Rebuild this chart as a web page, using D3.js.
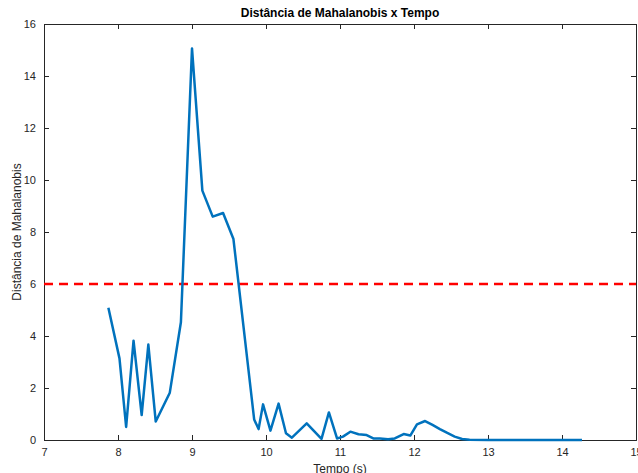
<!DOCTYPE html>
<html lang="pt">
<head>
<meta charset="UTF-8">
<title>Distância de Mahalanobis x Tempo</title>
<script src="https://d3js.org/d3.v7.min.js"></script>
<style>
  body { margin: 0; background: #fff; }
  svg { display: block; font-family: "Liberation Sans", Arial, sans-serif; }
</style>
</head>
<body>
<svg id="chart" width="638" height="473"></svg>
<script>
// Tempo (s) and Mahalanobis distance
const tempo = [7.87, 8.02, 8.11, 8.21, 8.32, 8.41, 8.51, 8.70, 8.85, 9.00,
  9.14, 9.28, 9.42, 9.56, 9.84, 9.90, 9.96, 10.06, 10.17, 10.27,
  10.35, 10.55, 10.75, 10.85, 10.96, 11.04, 11.14, 11.25, 11.36, 11.45,
  11.54, 11.65, 11.74, 11.86, 11.95, 12.04, 12.15, 12.25, 12.35, 12.45,
  12.55, 12.65, 12.75, 13.0, 13.5, 14.0, 14.27];
const distancia = [5.09, 3.14, 0.5, 3.82, 0.96, 3.67, 0.71, 1.82, 4.53, 15.06,
  9.59, 8.59, 8.73, 7.73, 0.79, 0.42, 1.37, 0.36, 1.40, 0.26,
  0.09, 0.64, 0.04, 1.06, 0.06, 0.13, 0.32, 0.22, 0.19, 0.06,
  0.06, 0.03, 0.06, 0.23, 0.17, 0.60, 0.73, 0.58, 0.42, 0.27,
  0.13, 0.04, 0.01, 0.0, 0.0, 0.0, 0.0];
const limiar = 6;
const xTicks = [7, 8, 9, 10, 11, 12, 13, 14, 15];
const yTicks = [0, 2, 4, 6, 8, 10, 12, 14, 16];

const margin = {top: 24, right: 2, bottom: 33, left: 44};
const W = 638, H = 473;
const width = W - margin.left - margin.right;
const height = H - margin.top - margin.bottom;

const svg = d3.select("#chart");
const g = svg.append("g").attr("transform", `translate(${margin.left},${margin.top})`);

const x = d3.scaleLinear().domain([7, 15]).range([0, width]);
const y = d3.scaleLinear().domain([0, 16]).range([height, 0]);

const axisColor = "#262626";

// bottom / left axes with inward ticks
const xAxis = g.append("g").attr("transform", `translate(0,${height})`)
  .call(d3.axisBottom(x).tickValues(xTicks).tickSize(-5).tickPadding(8).tickFormat(d3.format("d")));
const yAxis = g.append("g")
  .call(d3.axisLeft(y).tickValues(yTicks).tickSize(-5).tickPadding(8).tickFormat(d3.format("d")));
// top / right ticks (box on)
const xTop = g.append("g")
  .call(d3.axisTop(x).tickValues(xTicks).tickSize(-5).tickFormat(""));
const yRight = g.append("g").attr("transform", `translate(${width},0)`)
  .call(d3.axisRight(y).tickValues(yTicks).tickSize(-5).tickFormat(""));

[xAxis, yAxis, xTop, yRight].forEach(a => {
  a.select(".domain").attr("stroke", axisColor).attr("stroke-width", 1);
  a.selectAll(".tick line").attr("stroke", axisColor);
  a.selectAll(".tick text").attr("fill", axisColor).attr("font-size", 11);
});

// threshold
g.append("line")
  .attr("x1", x(7)).attr("x2", x(15))
  .attr("y1", y(limiar)).attr("y2", y(limiar))
  .attr("stroke", "#ff0000").attr("stroke-width", 2.5)
  .attr("stroke-dasharray", "9,6");

// series
const pts = tempo.map((t, i) => [t, distancia[i]]);
g.append("path").datum(pts)
  .attr("fill", "none")
  .attr("stroke", "#0072BD")
  .attr("stroke-width", 2.5)
  .attr("stroke-linejoin", "round")
  .attr("d", d3.line().x(d => x(d[0])).y(d => y(d[1])));

// title and labels
svg.append("text")
  .attr("x", margin.left + width / 2).attr("y", 17)
  .attr("text-anchor", "middle").attr("font-size", 12).attr("font-weight", "bold")
  .attr("fill", "#000")
  .text("Distância de Mahalanobis x Tempo");

svg.append("text")
  .attr("x", margin.left + width / 2).attr("y", 473)
  .attr("text-anchor", "middle").attr("font-size", 12).attr("fill", axisColor)
  .text("Tempo (s)");

svg.append("text")
  .attr("transform", `translate(21,${margin.top + height / 2}) rotate(-90)`)
  .attr("text-anchor", "middle").attr("font-size", 12).attr("fill", axisColor)
  .text("Distância de Mahalanobis");
</script>
</body>
</html>
